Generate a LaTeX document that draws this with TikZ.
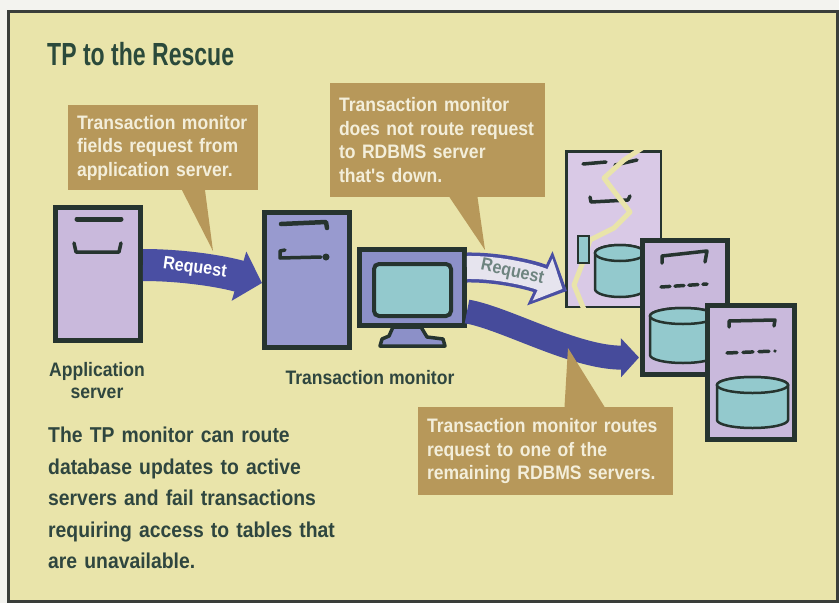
\documentclass[tikz,border=0pt]{standalone}
\usepackage{fontspec}
\setmainfont{Liberation Sans}
\newfontfamily\titlefont{Liberation Sans}[FakeStretch=0.72]
\newfontfamily\narrowfont{Liberation Sans}[FakeStretch=0.9]
\usetikzlibrary{positioning,arrows.meta,calc}

\definecolor{margin}{HTML}{F3F3EF}
\definecolor{paper}{HTML}{E9E4AA}
\definecolor{framegray}{HTML}{3A3E3A}
\definecolor{khaki}{HTML}{B7985A}
\definecolor{cream}{HTML}{F3EEDA}
\definecolor{titlegreen}{HTML}{2B4A3B}
\definecolor{inkgreen}{HTML}{2F463F}
\definecolor{outline}{HTML}{26342F}
\definecolor{lilac}{HTML}{C9B9DC}
\definecolor{palelilac}{HTML}{D9C9E6}
\definecolor{periwinkle}{HTML}{989ACF}
\definecolor{bezel}{HTML}{8C90C8}
\definecolor{screen}{HTML}{93C9CD}
\definecolor{reqblue}{HTML}{4A4FA3}
\definecolor{reqpale}{HTML}{E6E4EE}
\definecolor{reqgray}{HTML}{6E8480}

% database can: left, top, width, height
\newcommand{\dbdisk}[4]{%
  \filldraw[disk] (#1,#2+8) -- (#1,#2+#4-8)
    arc[start angle=180, end angle=0, x radius=#3/2, y radius=8]
    -- (#1+#3,#2+8) arc[start angle=0, end angle=-180, x radius=#3/2, y radius=8] -- cycle;
  \draw[disk] (#1+#3/2,#2+8) ellipse[x radius=#3/2, y radius=8];
}

\begin{document}
\begin{tikzpicture}[x=1pt, y=-1pt,
  callout/.style={fill=khaki, text=cream, align=left, inner xsep=9pt, inner ysep=0pt,
    font={\narrowfont\bfseries\fontsize{19.5}{23.5}\selectfont}},
  tower/.style={draw=outline, line width=5pt, inner sep=0pt},
  slot/.style={draw=outline, line width=3.5pt, line cap=round, line join=round},
  disk/.style={fill=screen, draw=outline, line width=2.5pt},
  lbl/.style={text=inkgreen, align=center, inner sep=0pt,
    font={\narrowfont\bfseries\fontsize{19.5}{22}\selectfont}},
  reqtext/.style={inner sep=0pt, font={\narrowfont\bfseries\fontsize{18}{18}\selectfont}}
]
\useasboundingbox (0,0) rectangle (839,603);
\fill[margin] (0,0) rectangle (839,603);
\filldraw[fill=paper, draw=framegray, line width=3pt] (8,11) rectangle (837,601);

\node[anchor=west, text=titlegreen, inner sep=0pt,
  font={\titlefont\bfseries\fontsize{32}{32}\selectfont}] (title) at (47,54) {TP to the Rescue};

\node[lbl, anchor=north west, align=left, text width=300,
  font={\narrowfont\bfseries\fontsize{21.5}{31.5}\selectfont}] (note) at (48,427)
  {The TP monitor can route\\database updates to active\\servers and fail transactions\\requiring access to tables that\\are unavailable.};

% application server
\node[tower, fill=lilac, minimum width=85, minimum height=133] (app) at (98,274) {};
\draw[slot, line width=5pt] (77,219) -- (121,219);
\draw[slot] (74,243) -- (76,252) -- (119,252) -- (121,243);
\node[lbl] (applbl) at (97,381) {Application\\server};

% transaction monitor
\node[tower, fill=periwinkle, minimum width=85, minimum height=135] (tpmon) at (307,280) {};
\draw[slot, line width=4.5pt] (281,224) -- (326,222) -- (327,228);
\draw[slot] (285,250) -- (280,251) -- (280,258) -- (321,257);
\fill[outline] (326,257) circle[radius=3.5];

\filldraw[fill=bezel, draw=outline, line width=3.5pt, line join=round]
  (393,327) -- (421,327) -- (427,337) -- (443,339) -- (445,346) -- (380,346) -- (382,339) -- (389,336) -- cycle;
\node[tower, fill=bezel, minimum width=105, minimum height=76] (display) at (412,287.5) {};
\node[draw=outline, line width=4pt, fill=screen, rounded corners=5pt, minimum width=77,
  minimum height=52, inner sep=0pt] (glass) at (412.5,290) {};
\node[lbl] (tmlbl) at (370,378) {Transaction monitor};

% RDBMS servers
\node[draw=outline, line width=2.5pt, fill=palelilac, minimum width=94.5, minimum height=155.5,
  inner sep=0pt] (dbdown) at (613.5,229) {};
\draw[slot] (583,164) -- (606,162);
\draw[slot] (615,165) -- (637,160);
\draw[slot] (590,197) -- (591,202) -- (628,200) -- (630,196);
\dbdisk{595}{245}{50}{52}
\draw[paper, line width=5pt, line join=round, line cap=round]
  (645,146) -- (624,160) -- (604,178) -- (613,190) -- (630,212) -- (614,228) -- (590,240)
  -- (583,262) -- (574,285) -- (585,312);
\filldraw[disk] (578,236) rectangle (589,263);

\node[tower, fill=lilac, minimum width=85, minimum height=134] (dbone) at (685,307.5) {};
\draw[slot] (662,263) -- (662,256) -- (707,251) -- (705,262);
\draw[slot, dash pattern=on 9pt off 5pt] (661,287) -- (707,284);
\dbdisk{650}{308}{66}{55}

\node[tower, fill=lilac, minimum width=87, minimum height=134] (dbtwo) at (751,372.5) {};
\draw[slot] (729,327) -- (729,321) -- (775,320) -- (774,326);
\draw[slot, dash pattern=on 10pt off 6pt] (727,353) -- (775,351);
\dbdisk{717}{377}{71}{51}

% requests
\draw[line width=32pt, reqblue, -{Triangle[length=24pt, width=50pt]}]
  ($(app.east)+(0,-9)$) .. controls (185,265) and (225,272) .. ($(tpmon.west)+(0,3)$)
  node[pos=0.42, sloped, reqtext, text=white] {Request};
\draw[line width=30pt, reqblue, -{Triangle[length=30pt, width=58pt]}]
  ($(display.east)+(0,-20)$) .. controls (500,267) and (535,276) .. ($(dbdown.west)+(2,62)$);
\draw[line width=23pt, reqpale, shorten >=5pt, -{Triangle[length=22pt, width=45pt]}]
  ($(display.east)+(0,-20)$) .. controls (500,267) and (535,276) .. ($(dbdown.west)+(2,62)$)
  node[pos=0.45, sloped, reqtext, text=reqgray] {Request};
\draw[line width=24pt, reqblue!95!black, -{Triangle[length=18pt, width=38pt]}]
  ($(display.east)+(0,24)$) .. controls (505,318) and (575,358) .. ($(dbone.west)+(-1,50)$);

% callouts
\coordinate (ptfield) at (213,251);
\coordinate (ptdown) at (485,250);
\coordinate (ptroute) at (568,348);
\node[callout, text width=172, minimum width=190, minimum height=85] (cfield) at (163,147.5)
  {Transaction monitor\\fields request from\\application server.};
\fill[khaki] ($(cfield.south)+(19,0)$) -- ($(cfield.south)+(42,0)$) -- (ptfield) -- cycle;
\node[callout, text width=197, minimum width=215, minimum height=114] (cdown) at (437.5,140)
  {Transaction monitor\\does not route request\\to RDBMS server\\that's down.};
\fill[khaki] ($(cdown.south)+(12,0)$) -- ($(cdown.south)+(40,0)$) -- (ptdown) -- cycle;
\node[callout, text width=237, minimum width=255, minimum height=88] (croute) at (545.5,451)
  {Transaction monitor routes\\request to one of the\\remaining RDBMS servers.};
\fill[khaki] ($(croute.north)+(19,0)$) -- ($(croute.north)+(59,0)$) -- (ptroute) -- cycle;
\end{tikzpicture}
\end{document}
